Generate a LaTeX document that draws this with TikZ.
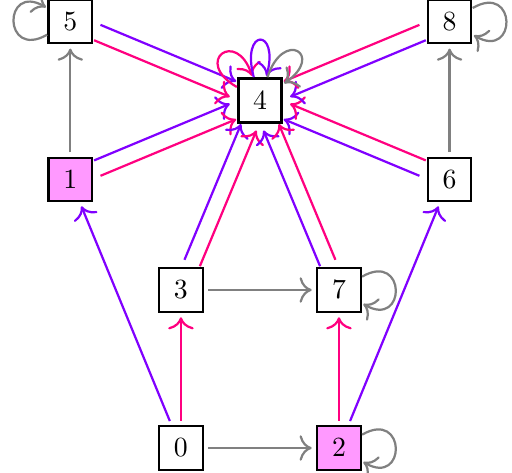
\documentclass[tikz,border=0pt]{standalone}
\usetikzlibrary{calc,arrows.meta}
\definecolor{lettera}{HTML}{8000FF}
\definecolor{letterb}{HTML}{FF0080}
\definecolor{markfill}{HTML}{FF99FF}

\begin{document}
\begin{tikzpicture}[
  >={To[scale=1.3]},
  state/.style={draw, thick, fill=white, minimum size=0.55cm, inner sep=1pt, outer sep=0.5pt},
  marked/.style={state, fill=markfill},
  edgea/.style={->, thick, lettera, shorten <=1.5pt, shorten >=1.5pt},
  edgeb/.style={->, thick, letterb, shorten <=1.5pt, shorten >=1.5pt},
  edgec/.style={->, thick, gray, shorten <=1.5pt, shorten >=1.5pt},
  selfloop/.style={->, thick, looseness=1, min distance=6.5mm, shorten >=0.5pt},
]
\useasboundingbox (-2.29,-0.304) rectangle (4.19,5.67);
\node[state] (n0) at (0,0) {$0$};
\node[marked] (n2) at (2,0) {$2$};
\node[state] (n3) at (0,2) {$3$};
\node[state] (n7) at (2,2) {$7$};
\node[marked] (n1) at (-1.4,3.4) {$1$};
\node[state] (n6) at (3.4,3.4) {$6$};
\node[state, line width=1.1pt] (n4) at (1,4.4) {$4$};
\node[state] (n5) at (-1.4,5.4) {$5$};
\node[state] (n8) at (3.4,5.4) {$8$};

\draw[edgec] (n0) -- (n2);
\draw[edgec] (n3) -- (n7);
\draw[edgec] (n1) -- (n5);
\draw[edgec] (n6) -- (n8);
\draw[edgea] (n0) -- (n1);
\draw[edgeb] (n0) -- (n3);
\draw[edgeb] (n2) -- (n7);
\draw[edgea] (n2) -- (n6);

% both letters into 4
\foreach \s in {n1,n3,n5,n6,n7,n8} {
  \draw[edgea, transform canvas={shift={($(\s)!3pt!90:(n4)-(\s)$)}}] (\s) -- (n4);
  \draw[edgeb, transform canvas={shift={($(\s)!3pt!-90:(n4)-(\s)$)}}] (\s) -- (n4);
}

\draw[selfloop, gray] (n5) to[out=210, in=150] (n5);
\draw[selfloop, gray] (n8) to[out=30, in=-30] (n8);
\draw[selfloop, gray] (n7) to[out=30, in=-30] (n7);
\draw[selfloop, gray] (n2) to[out=30, in=-30] (n2);
\draw[selfloop, letterb] (n4) to[out=150, in=108] (n4);
\draw[selfloop, lettera] (n4) to[out=105, in=75] (n4);
\draw[selfloop, gray] (n4) to[out=72, in=35] (n4);
\end{tikzpicture}
\end{document}
